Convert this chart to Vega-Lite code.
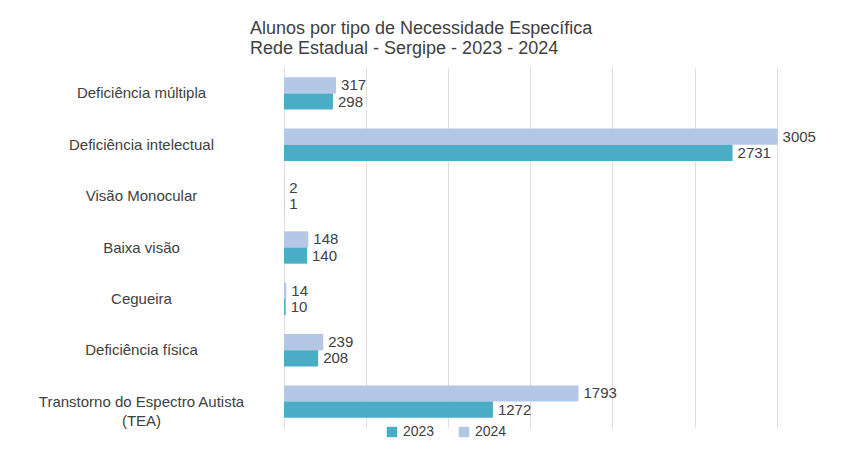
{
  "$schema": "https://vega.github.io/schema/vega-lite/v6.json",
  "width": 542,
  "height": 359,
  "autosize": "none",
  "padding": {"left": 284, "top": 68, "right": 26, "bottom": 28},
  "background": "white",
  "config": {"view": {"stroke": null}},
  "title": {
    "text": ["Alunos por tipo de Necessidade Específica", "Rede Estadual - Sergipe - 2023 - 2024"],
    "fontSize": 18,
    "font": "Liberation Sans",
    "fontWeight": "normal",
    "color": "#404040",
    "anchor": "start",
    "frame": "group",
    "align": "left",
    "dx": -34,
    "offset": 10,
    "lineHeight": 20
  },
  "data": {
    "values": [
      {"categoria": "Deficiência múltipla", "ano": "2024", "valor": 317},
      {"categoria": "Deficiência múltipla", "ano": "2023", "valor": 298},
      {"categoria": "Deficiência intelectual", "ano": "2024", "valor": 3005},
      {"categoria": "Deficiência intelectual", "ano": "2023", "valor": 2731},
      {"categoria": "Visão Monocular", "ano": "2024", "valor": 2},
      {"categoria": "Visão Monocular", "ano": "2023", "valor": 1},
      {"categoria": "Baixa visão", "ano": "2024", "valor": 148},
      {"categoria": "Baixa visão", "ano": "2023", "valor": 140},
      {"categoria": "Cegueira", "ano": "2024", "valor": 14},
      {"categoria": "Cegueira", "ano": "2023", "valor": 10},
      {"categoria": "Deficiência física", "ano": "2024", "valor": 239},
      {"categoria": "Deficiência física", "ano": "2023", "valor": 208},
      {"categoria": "Transtorno do Espectro Autista (TEA)", "ano": "2024", "valor": 1793},
      {"categoria": "Transtorno do Espectro Autista (TEA)", "ano": "2023", "valor": 1272}
    ]
  },
  "encoding": {
    "y": {
      "field": "categoria",
      "type": "nominal",
      "sort": ["Deficiência múltipla", "Deficiência intelectual", "Visão Monocular", "Baixa visão", "Cegueira", "Deficiência física", "Transtorno do Espectro Autista (TEA)"],
      "scale": {"paddingInner": 0.37, "paddingOuter": 0.18},
      "axis": {
        "title": null,
        "ticks": false,
        "domain": false,
        "labelAlign": "center",
        "labelPadding": 143,
        "labelFontSize": 15,
        "labelFont": "Liberation Sans",
        "labelColor": "#404040",
        "labelLimit": 280,
        "labelLineHeight": 19,
        "labelExpr": "datum.label == 'Transtorno do Espectro Autista (TEA)' ? ['Transtorno do Espectro Autista', '(TEA)'] : datum.label"
      }
    },
    "yOffset": {"field": "ano", "type": "nominal", "sort": ["2024", "2023"]},
    "x": {
      "field": "valor",
      "type": "quantitative",
      "scale": {"domain": [0, 3300], "nice": false},
      "axis": {
        "title": null,
        "labels": false,
        "ticks": false,
        "domain": false,
        "values": [0, 500, 1000, 1500, 2000, 2500, 3000],
        "gridColor": "#e0e0e0"
      }
    }
  },
  "layer": [
    {
      "mark": {"type": "bar"},
      "encoding": {
        "color": {
          "field": "ano",
          "type": "nominal",
          "scale": {"domain": ["2023", "2024"], "range": ["#4bacc6", "#b4c7e7"]},
          "legend": {
            "orient": "none",
            "legendX": 101,
            "legendY": 357,
            "direction": "horizontal",
            "title": null,
            "symbolType": "square",
            "symbolSize": 110,
            "symbolStrokeWidth": 0,
            "labelFontSize": 14,
            "labelFont": "Liberation Sans",
            "labelColor": "#404040",
            "columnPadding": 22
          }
        }
      }
    },
    {
      "mark": {"type": "text", "align": "left", "baseline": "middle", "dx": 5, "fontSize": 15, "font": "Liberation Sans", "color": "#404040"},
      "encoding": {"text": {"field": "valor", "type": "quantitative"}}
    }
  ]
}
